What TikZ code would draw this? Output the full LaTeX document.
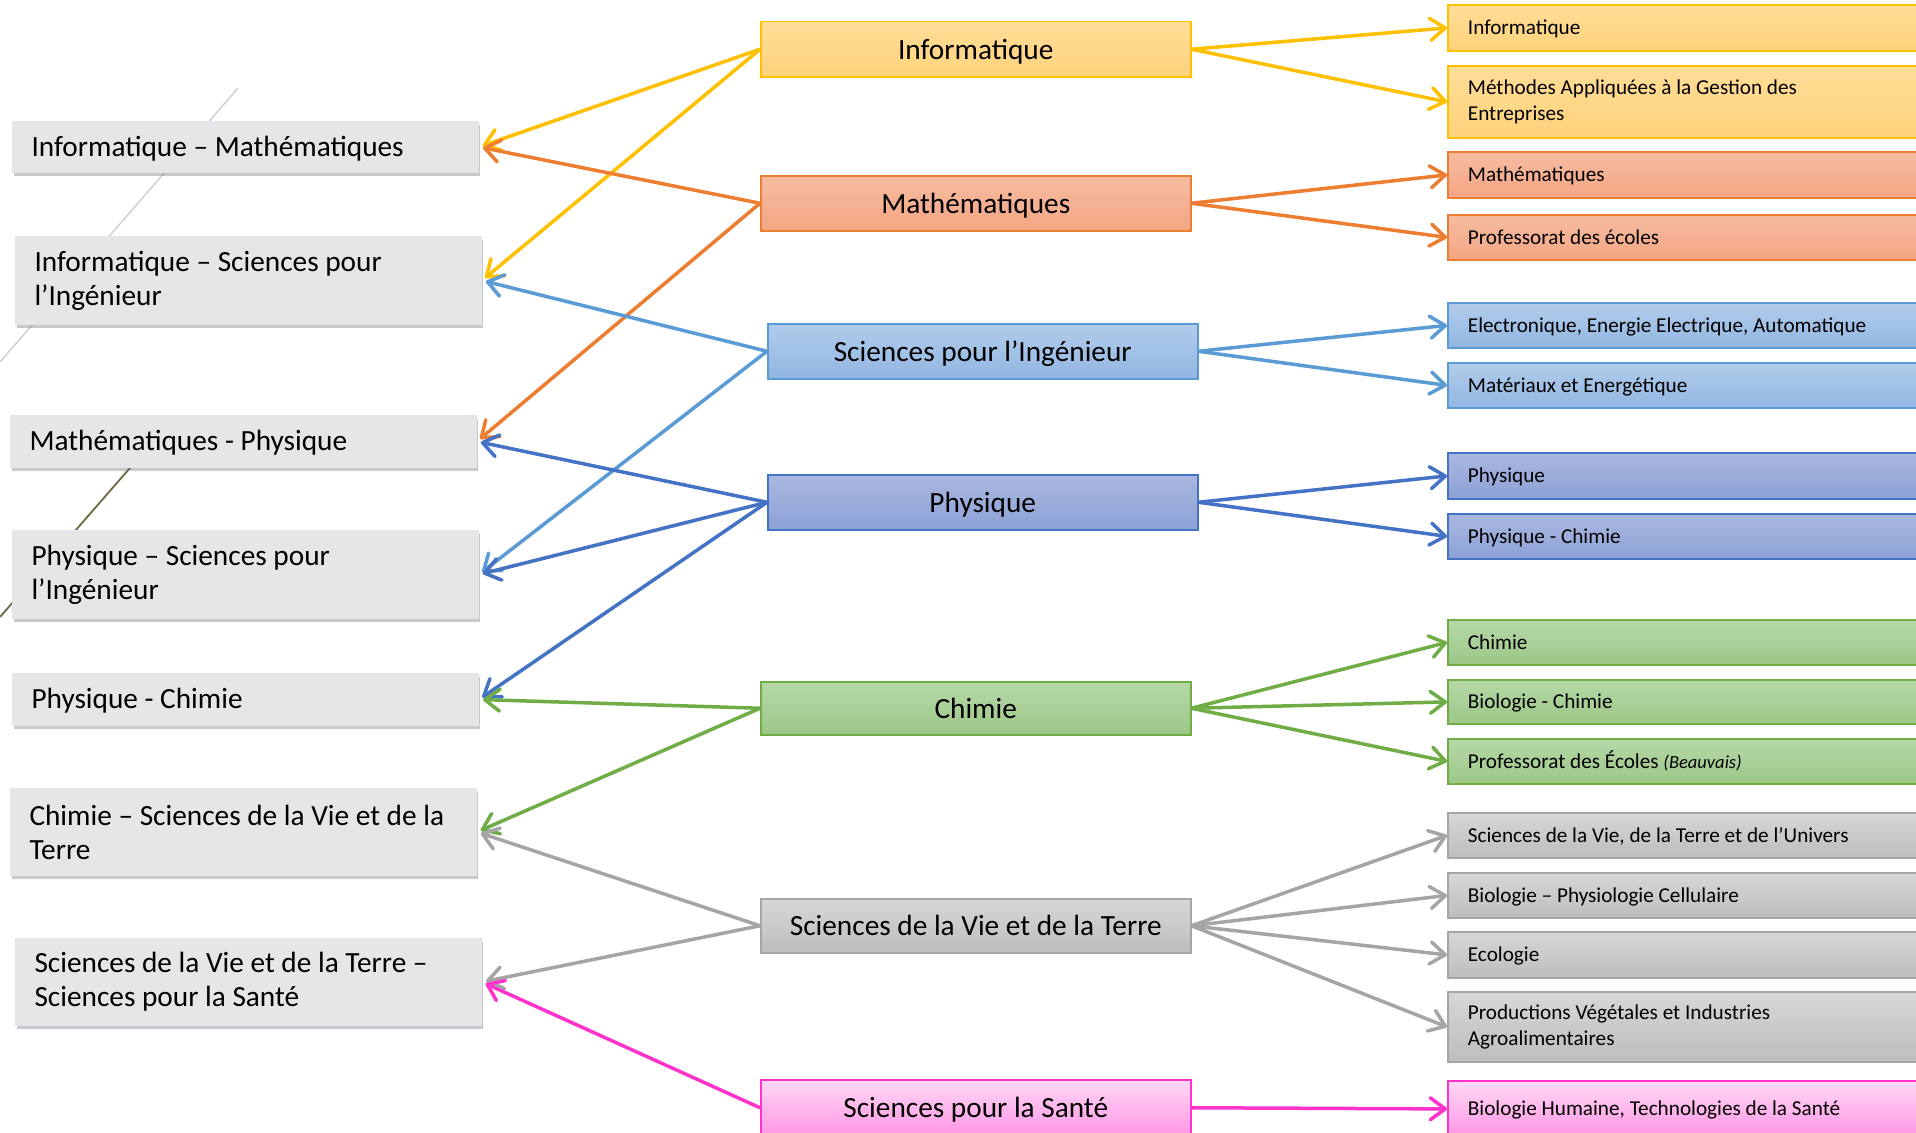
\documentclass[tikz,border=0pt]{standalone}
\usepackage{fontspec}
\setmainfont{Carlito}
\usetikzlibrary{arrows.meta,shadows}
\definecolor{yline}{HTML}{FFC000}\definecolor{ytop}{HTML}{FFDD98}\definecolor{ybot}{HTML}{FED27B}
\definecolor{oline}{HTML}{ED7D31}\definecolor{otop}{HTML}{F6BCA0}\definecolor{obot}{HTML}{F4A584}
\definecolor{bline}{HTML}{5B9BD5}\definecolor{btop}{HTML}{B1CCEB}\definecolor{bbot}{HTML}{92B6E2}
\definecolor{pline}{HTML}{4472C4}\definecolor{ptop}{HTML}{AAB8E0}\definecolor{pbot}{HTML}{8DA1D6}
\definecolor{gline}{HTML}{70AD47}\definecolor{gtop}{HTML}{B6D8A7}\definecolor{gbot}{HTML}{9CC788}
\definecolor{sline}{HTML}{A5A5A5}\definecolor{stop}{HTML}{D7D7D7}\definecolor{sbot}{HTML}{BDBDBD}
\definecolor{mline}{HTML}{FF33CC}\definecolor{mtop}{HTML}{FFD8F4}\definecolor{mbot}{HTML}{FF96E6}
\definecolor{lfill}{HTML}{E6E6E6}\definecolor{lborder}{HTML}{E0E6EE}
\newcommand\tsp{\spaceskip=0pt\xspaceskip=0pt\relax}
\begin{document}
\begin{tikzpicture}[x=1pt,y=-1pt,
  lbox/.style={draw=lborder, line width=1pt, fill=lfill, anchor=north west, minimum width=466pt,
    text width=428pt, inner xsep=19pt, inner ysep=0pt, align=left, font=\fontsize{29.3}{34}\selectfont,
    drop shadow={shadow xshift=1.5pt, shadow yshift=-3.5pt, fill=black!60, opacity=.35}},
  cbox/.style={anchor=north west, minimum width=430pt, minimum height=55pt, inner sep=0pt,
    line width=1.5pt, font=\fontsize{29.3}{34}\selectfont, text height=20pt, text depth=0pt},
  rbox/.style={anchor=north west, minimum width=473pt, text width=433pt, inner xsep=20pt,
    inner ysep=0pt, align=left, line width=1.8pt, font=\fontsize{21.2}{26}\selectfont},
  lone/.style={text height=18pt, text depth=0pt},
  rone/.style={text height=14pt, text depth=0pt},
  yel/.style={draw=yline, top color=ytop, bottom color=ybot},
  ora/.style={draw=oline, top color=otop, bottom color=obot},
  blu/.style={draw=bline, top color=btop, bottom color=bbot},
  phy/.style={draw=pline, top color=ptop, bottom color=pbot},
  gre/.style={draw=gline, top color=gtop, bottom color=gbot},
  gra/.style={draw=sline, top color=stop, bottom color=sbot},
  pin/.style={draw=mline, top color=mtop, bottom color=mbot},
  arr/.style={line width=3.5pt, -{Straight Barb[length=15pt,width=22pt,round]}},
  larr/.style={arr, shorten >=4pt}
]
\useasboundingbox (0,0) rectangle (1916,1132);
\fill[white] (0,0) rectangle (1916,1132);

% decorative background lines
\draw[color=black!20, line width=1.3pt] (238,88) -- (0,362);
\draw[color=black!45!olive!70!gray, line width=1.8pt] (150,445) -- (0,617);

% left boxes
\node[lbox, lone, minimum height=51pt] (l1) at (12,121) {\tsp Informatique – Mathématiques};
\node[lbox, minimum height=88pt] (l2) at (15,236) {\tsp Informatique – Sciences pour\\l’Ingénieur};
\node[lbox, lone, minimum height=52pt] (l3) at (10,415) {\tsp Mathématiques - Physique};
\node[lbox, minimum height=88pt] (l4) at (12,530) {\tsp Physique – Sciences pour\\l’Ingénieur};
\node[lbox, lone, minimum height=52pt] (l5) at (12,673) {\tsp Physique - Chimie};
\node[lbox, minimum height=87pt] (l6) at (10,788) {\tsp\mbox{Chimie – Sciences de la Vie et de la}\\Terre};
\node[lbox, minimum height=87pt] (l7) at (15,938) {\tsp\mbox{Sciences de la Vie et de la Terre –}\\Sciences pour la Santé};

% center boxes
\node[cbox, yel] (c1) at (760,21) {Informatique};
\node[cbox, ora] (c2) at (760,175) {Mathématiques};
\node[cbox, blu] (c3) at (767,323) {Sciences pour l’Ingénieur};
\node[cbox, phy] (c4) at (767,474) {Physique};
\node[cbox, gre, minimum height=53pt] (c5) at (760,681) {Chimie};
\node[cbox, gra, minimum height=54pt] (c6) at (760,898) {Sciences de la Vie et de la Terre};
\node[cbox, pin, minimum height=56pt] (c7) at (760,1079) {Sciences pour la Santé};

% right boxes
\node[rbox, rone, yel, minimum height=46pt] (r1) at (1447,4) {\tsp Informatique};
\node[rbox, yel, minimum height=72pt] (r2) at (1447,65) {\tsp Méthodes Appliquées à la Gestion des\\Entreprises};
\node[rbox, rone, ora, minimum height=46pt] (r3) at (1447,151) {\tsp Mathématiques};
\node[rbox, rone, ora, minimum height=45pt] (r4) at (1447,214) {\tsp Professorat des écoles};
\node[rbox, rone, blu, minimum height=45pt] (r5) at (1447,302) {\tsp Electronique, Energie Electrique, Automatique};
\node[rbox, rone, blu, minimum height=45pt] (r6) at (1447,362) {\tsp Matériaux et Energétique};
\node[rbox, rone, phy, minimum height=46pt] (r7) at (1447,452) {\tsp Physique};
\node[rbox, rone, phy, minimum height=45pt] (r8) at (1447,513) {\tsp Physique - Chimie};
\node[rbox, rone, gre, minimum height=45pt] (r9) at (1447,619) {\tsp Chimie};
\node[rbox, rone, gre, minimum height=44pt] (r10) at (1447,679) {\tsp Biologie - Chimie};
\node[rbox, rone, gre, minimum height=45pt] (r11) at (1447,738) {\tsp Professorat des Écoles {\fontsize{18.5}{20}\selectfont\itshape (Beauvais)}};
\node[rbox, rone, gra, minimum height=45pt] (r12) at (1447,812) {\tsp Sciences de la Vie, de la Terre et de l’Univers};
\node[rbox, rone, gra, minimum height=45pt] (r13) at (1447,872) {\tsp Biologie – Physiologie Cellulaire};
\node[rbox, rone, gra, minimum height=46pt] (r14) at (1447,931) {\tsp Ecologie};
\node[rbox, gra, minimum height=70pt] (r15) at (1447,991) {\tsp Productions Végétales et Industries\\Agroalimentaires};
\node[rbox, rone, pin, minimum height=56pt] (r16) at (1447,1080) {\tsp Biologie Humaine, Technologies de la Santé};

% arrows to the left
\draw[larr, yline] (c1.west) -- (l1.east);
\draw[larr, yline] (c1.west) -- (l2.east);
\draw[larr, oline] (c2.west) -- (l1.east);
\draw[larr, oline] (c2.west) -- (l3.east);
\draw[larr, bline] (c3.west) -- (l2.east);
\draw[larr, bline] (c3.west) -- (l4.east);
\draw[larr, pline] (c4.west) -- (l3.east);
\draw[larr, pline] (c4.west) -- (l4.east);
\draw[larr, pline] (c4.west) -- (l5.east);
\draw[larr, gline] (c5.west) -- (l5.east);
\draw[larr, gline] (c5.west) -- (l6.east);
\draw[larr, sline] (c6.west) -- (l6.east);
\draw[larr, sline] (c6.west) -- (l7.east);
\draw[larr, mline] (c7.west) -- (l7.east);

% arrows to the right
\draw[arr, yline] (c1.east) -- (r1.west);
\draw[arr, yline] (c1.east) -- (r2.west);
\draw[arr, oline] (c2.east) -- (r3.west);
\draw[arr, oline] (c2.east) -- (r4.west);
\draw[arr, bline] (c3.east) -- (r5.west);
\draw[arr, bline] (c3.east) -- (r6.west);
\draw[arr, pline] (c4.east) -- (r7.west);
\draw[arr, pline] (c4.east) -- (r8.west);
\draw[arr, gline] (c5.east) -- (r9.west);
\draw[arr, gline] (c5.east) -- (r10.west);
\draw[arr, gline] (c5.east) -- (r11.west);
\draw[arr, sline] (c6.east) -- (r12.west);
\draw[arr, sline] (c6.east) -- (r13.west);
\draw[arr, sline] (c6.east) -- (r14.west);
\draw[arr, sline] (c6.east) -- (r15.west);
\draw[arr, mline] (c7.east) -- (r16.west);
\end{tikzpicture}
\end{document}
